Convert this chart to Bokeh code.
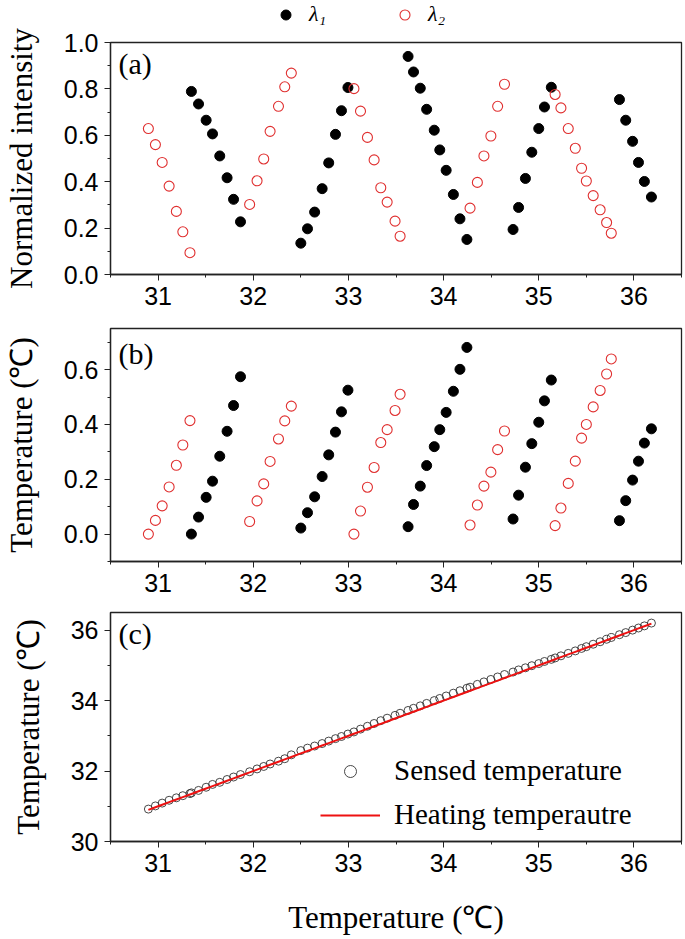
from bokeh.plotting import figure
from bokeh.layouts import column
from bokeh.models import (Range1d, SingleIntervalTicker, PrintfTickFormatter,
                          Legend, LegendItem, Label)
from bokeh.embed import file_html
from bokeh.resources import INLINE

# ---------------- data ----------------
lam1_t = [31.35, 31.425, 31.505, 31.572, 31.648, 31.725, 31.793, 31.866,
          32.50, 32.57, 32.645, 32.724, 32.793, 32.864, 32.927, 32.995,
          33.627, 33.684, 33.755, 33.822, 33.902, 33.96, 34.027, 34.103, 34.172, 34.245,
          34.73, 34.788, 34.86, 34.927, 35.0, 35.06, 35.132,
          35.848, 35.914, 35.986, 36.048, 36.11, 36.184]
lam1_int = [0.789, 0.735, 0.665, 0.606, 0.511, 0.417, 0.324, 0.227,
            0.135, 0.197, 0.269, 0.37, 0.481, 0.604, 0.706, 0.806,
            0.94, 0.873, 0.803, 0.712, 0.622, 0.537, 0.449, 0.345, 0.24, 0.151,
            0.194, 0.289, 0.414, 0.527, 0.629, 0.722, 0.807,
            0.754, 0.665, 0.574, 0.483, 0.401, 0.334]
lam1_rel = [0.0, 0.062, 0.134, 0.193, 0.284, 0.375, 0.469, 0.574,
            0.022, 0.078, 0.136, 0.21, 0.289, 0.372, 0.446, 0.525,
            0.027, 0.108, 0.175, 0.25, 0.319, 0.381, 0.444, 0.521, 0.601, 0.681,
            0.055, 0.142, 0.244, 0.33, 0.408, 0.486, 0.562,
            0.049, 0.122, 0.197, 0.266, 0.332, 0.384]

lam2_t = [30.898, 30.972, 31.043, 31.116, 31.192, 31.26, 31.335,
          31.962, 32.04, 32.11, 32.177, 32.265, 32.331, 32.4,
          33.058, 33.127, 33.2, 33.27, 33.34, 33.407, 33.49, 33.543,
          34.278, 34.355, 34.424, 34.497, 34.568, 34.64,
          35.172, 35.233, 35.31, 35.384, 35.45, 35.5, 35.572, 35.645, 35.713, 35.762]
lam2_int = [0.629, 0.56, 0.483, 0.381, 0.272, 0.184, 0.094,
            0.302, 0.404, 0.498, 0.617, 0.725, 0.809, 0.868,
            0.801, 0.704, 0.591, 0.494, 0.374, 0.312, 0.23, 0.165,
            0.286, 0.397, 0.511, 0.597, 0.725, 0.82,
            0.776, 0.718, 0.629, 0.544, 0.458, 0.403, 0.34, 0.279, 0.224, 0.178]
lam2_rel = [0.0, 0.05, 0.103, 0.172, 0.251, 0.325, 0.414,
            0.046, 0.121, 0.183, 0.265, 0.347, 0.413, 0.467,
            0.0, 0.084, 0.171, 0.243, 0.334, 0.381, 0.451, 0.51,
            0.033, 0.106, 0.175, 0.226, 0.308, 0.376,
            0.031, 0.095, 0.185, 0.266, 0.35, 0.4, 0.464, 0.524, 0.584, 0.639]

heating_t = sorted(lam1_t + lam2_t)
sensed_t = [30.92, 31.01, 31.09, 31.17, 31.24, 31.30, 31.36, 31.38, 31.45, 31.54,
            31.62, 31.68, 31.76, 31.83, 31.90, 31.98, 32.06, 32.13, 32.20, 32.28,
            32.35, 32.46, 32.58, 32.65, 32.71, 32.78, 32.85, 32.92, 32.98, 33.05,
            33.11, 33.19, 33.27, 33.35, 33.43, 33.50, 33.58, 33.64, 33.72, 33.78,
            33.85, 33.92, 34.00, 34.06, 34.13, 34.21, 34.28, 34.35, 34.38, 34.46,
            34.53, 34.60, 34.67, 34.74, 34.81, 34.87, 34.93, 34.99, 35.05, 35.11,
            35.17, 35.21, 35.27, 35.34, 35.41, 35.48, 35.53, 35.60, 35.67, 35.74,
            35.79, 35.87, 35.93, 36.00, 36.06, 36.12, 36.20]

x_ticks_interval = 1
panel_labels = ["(a)", "(b)", "(c)"]
series_labels = ["λ₁", "λ₂"]

# ---------------- styling ----------------
W = 683
BL = 108
BR = 2
TICK_FONT = "Liberation Sans"
SERIF = "Liberation Serif"
RED = "#e03030"
DOT = dict(marker="circle", size=10, fill_color="black", line_color="black")
RING = dict(marker="circle", size=10, fill_color=None, line_color=RED, line_width=1.1)


def style(p, yint, yfmt, title_size="31px"):
    p.grid.visible = False
    p.outline_line_color = "#222222"
    p.outline_line_width = 1.3
    p.background_fill_color = "white"
    p.border_fill_color = "white"
    p.xaxis.ticker = SingleIntervalTicker(interval=x_ticks_interval, num_minor_ticks=2)
    p.yaxis.ticker = SingleIntervalTicker(interval=yint, num_minor_ticks=2)
    if yfmt:
        p.yaxis.formatter = PrintfTickFormatter(format=yfmt)
    for ax in (p.xaxis, p.yaxis):
        ax.axis_line_color = "#222222"
        ax.axis_line_width = 1.3
        ax.major_tick_line_color = "#222222"
        ax.minor_tick_line_color = "#222222"
        ax.major_tick_in = 0
        ax.major_tick_out = 6
        ax.minor_tick_in = 0
        ax.minor_tick_out = 3
        ax.major_label_text_font = TICK_FONT
        ax.major_label_text_font_size = "25px"
        ax.major_label_text_color = "black"
        ax.major_label_standoff = 6
        ax.axis_label_text_font = SERIF
        ax.axis_label_text_font_size = title_size
        ax.axis_label_text_font_style = "normal"
        ax.axis_label_text_color = "black"
    p.yaxis.axis_label_standoff = 22
    p.xaxis.axis_label_standoff = 25


def panel_label(p, text, y):
    p.add_layout(Label(x=8, y=y, x_units="screen", y_units="screen", text=text,
                       text_font=SERIF, text_font_size="30px",
                       text_baseline="middle", text_color="black"))


# top legend strip (its frame is aligned with the panels below)
ps = figure(width=W, height=27, output_backend="svg", toolbar_location=None,
            x_range=Range1d(0, 1), y_range=Range1d(0, 1),
            x_axis_location=None, y_axis_location=None,
            min_border_left=BL, min_border_right=BR, min_border_top=0, min_border_bottom=0)
ps.grid.visible = False
ps.outline_line_color = None
ls1 = ps.scatter(lam1_t, lam1_int, **DOT)      # off-range: only used for the key
ls2 = ps.scatter(lam2_t, lam2_int, **RING)
leg_a = Legend(items=[LegendItem(label=series_labels[0], renderers=[ls1]),
                      LegendItem(label=series_labels[1], renderers=[ls2])],
               location=(163, 0), orientation="horizontal",
               label_text_font=SERIF, label_text_font_style="italic", label_text_font_size="22px",
               label_text_color="black",
               glyph_width=25, glyph_height=25, label_height=24, label_standoff=11, spacing=63,
               padding=0, margin=0, background_fill_alpha=0, border_line_alpha=0)
ps.add_layout(leg_a)

# panel (a)
pa = figure(width=W, height=291, output_backend="svg", toolbar_location=None,
            x_range=Range1d(30.5, 36.5), y_range=Range1d(0.0, 1.0),
            min_border_left=BL, min_border_right=BR, min_border_top=15, min_border_bottom=44)
style(pa, 0.2, "%.1f")
pa.yaxis.axis_label = "Normalized intensity"
pa.scatter(lam1_t, lam1_int, **DOT)
pa.scatter(lam2_t, lam2_int, **RING)
panel_label(pa, panel_labels[0], 211)

# panel (b)
pb = figure(width=W, height=287, output_backend="svg", toolbar_location=None,
            x_range=Range1d(30.5, 36.5), y_range=Range1d(-0.1, 0.75),
            min_border_left=BL, min_border_right=BR, min_border_top=10, min_border_bottom=44)
style(pb, 0.2, "%.1f")
pb.yaxis.axis_label = "Temperature (℃)"
pb.scatter(lam1_t, lam1_rel, **DOT)
pb.scatter(lam2_t, lam2_rel, **RING)
panel_label(pb, panel_labels[1], 208)

# panel (c)
pc = figure(width=W, height=332, output_backend="svg", toolbar_location=None,
            x_range=Range1d(30.5, 36.5), y_range=Range1d(30.0, 36.5),
            min_border_left=BL, min_border_right=BR, min_border_top=7, min_border_bottom=92)
style(pc, 2, None)
pc.yaxis.axis_label = "Temperature (℃)"
pc.xaxis.axis_label = "Temperature (℃)"
rc1 = pc.scatter(heating_t, sensed_t, marker="circle", size=8, fill_color=None,
                 line_color="#333333", line_width=0.9)
rc2 = pc.line(heating_t, heating_t, line_color="#ee1111", line_width=2)
leg_c = Legend(items=[LegendItem(label="Sensed temperature", renderers=[rc1]),
                      LegendItem(label="Heating temperautre", renderers=[rc2])],
               location=(210, 10), orientation="vertical",
               label_text_font=SERIF, label_text_font_size="29px", label_text_color="black",
               glyph_width=60, glyph_height=30, label_height=30, label_standoff=14, spacing=11,
               padding=0, margin=0, background_fill_alpha=0, border_line_alpha=0)
pc.add_layout(leg_c)
panel_label(pc, panel_labels[2], 208)

layout = column(ps, pa, pb, pc, spacing=0)
open("out.html", "w").write(file_html(layout, INLINE))
